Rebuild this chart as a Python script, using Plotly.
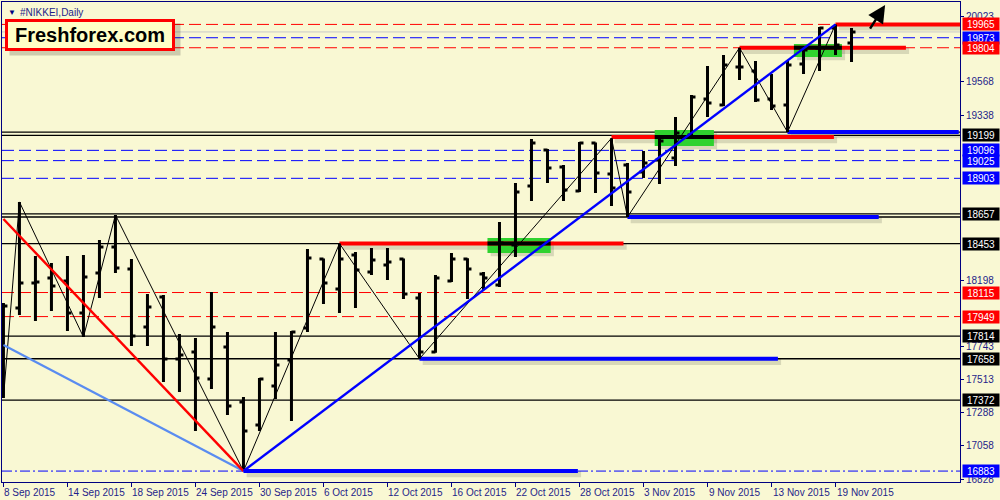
import datetime as dt
import plotly.graph_objects as go

# ---------------- data ----------------
dates = (["2015-09-%02d" % d for d in (8, 9, 10, 11, 14, 15, 16, 17, 18, 21, 22, 23, 24, 25, 28, 29, 30)]
         + ["2015-10-%02d" % d for d in (1, 2, 5, 6, 7, 8, 9, 12, 13, 14, 15, 16, 19, 20, 21, 22, 23, 26, 27, 28, 29, 30)]
         + ["2015-11-%02d" % d for d in (2, 3, 4, 5, 6, 9, 10, 11, 12, 13, 16, 17, 18, 19, 20)])

opens = [17500, 18008, 18181, 18215, 18195, 17974, 18250, 18429, 18277, 17877,
         18084, 17656, 17705, 17518, 17739, 17360, 17201, 17470, 17649, 17870,
         18346, 18139, 18374, 18257, 18305, 18346, 18077, 17705, 18195, 18346,
         18243, 18167, 18443, 18850, 19098, 18981, 18816, 19147, 18933, 18995,
         18947, 19029, 19043, 19202, 19450, 19409, 19671, 19644, 19450, 19409,
         19692, 19802, 19940, 19837]
highs = [18043, 18740, 18367, 18319, 18367, 18374, 18477, 18650, 18346, 18105,
         18098, 17829, 17801, 18119, 17843, 17394, 17525, 17843, 17850, 18415,
         18350, 18453, 18395, 18422, 18422, 18350, 18112, 18236, 18388, 18352,
         18257, 18602, 18871, 19174, 19105, 18995, 19154, 19150, 19180, 19009,
         19092, 19174, 19326, 19478, 19678, 19754, 19804, 19713, 19623, 19713,
         19795, 19947, 19965, 19940]
lows = [17387, 17960, 17919, 17988, 17850, 17808, 18077, 18250, 17746, 17746,
        17498, 17429, 17160, 17449, 17270, 16883, 17160, 17380, 17229, 17843,
        18036, 17974, 18008, 18236, 18201, 18070, 17658, 17700, 18188, 18070,
        18132, 18153, 18360, 18747, 18871, 18747, 18809, 18802, 18712, 18636,
        18905, 18864, 18988, 19174, 19326, 19402, 19581, 19430, 19374, 19222,
        19623, 19644, 19754, 19706]
closes = [18022, 18181, 18188, 18160, 17974, 18222, 18429, 18284, 17815, 18015,
          17656, 17684, 17525, 17877, 17332, 17160, 17518, 17615, 17843, 18353,
          18181, 18346, 18270, 18339, 18326, 18105, 17705, 18215, 18346, 18277,
          18215, 18457, 18809, 19147, 18974, 18822, 19147, 18940, 18836, 18809,
          19009, 19160, 19216, 19464, 19423, 19685, 19671, 19443, 19402, 19685,
          19788, 19940, 19823, 19913]

# zigzag pivots (bar index, price)
zz_idx = [0, 1, 5, 7, 15, 21, 26, 38, 39, 46, 49, 52]
zz_val = [17387, 18740, 17808, 18650, 16883, 18453, 17658, 19180, 18636, 19804, 19222, 19965]

# trend lines
red_tl_idx, red_tl_val = [0, 15], [18622, 16883]
lb_tl_idx, lb_tl_val = [0, 15], [17753, 16883]
blue_tl_idx, blue_tl_val = [15, 52], [16883, 19965]

# horizontal levels
dash_vals = [19965, 19873, 19804, 19096, 19025, 18903, 18115, 17949]
dash_cols = ["#FF0000", "#0000FF", "#FF0000", "#0000FF", "#0000FF", "#0000FF", "#FF0000", "#FF0000"]
solid_vals = [19222, 19199, 18657, 18636, 18453, 17814, 17658, 17372]
dashdot_val = 16883
bid_val = 19913

# thick level segments
seg_start = [52, 46, 38, 21, 49, 39, 26, 15]
seg_end = [60, 56.4, 51.9, 38.75, 59.7, 54.7, 48.4, 35.9]
seg_val = [19965, 19804, 19188, 18453, 19222, 18636, 17658, 16883]
seg_col = ["#FF0000", "#FF0000", "#FF0000", "#FF0000", "#0000FF", "#0000FF", "#0000FF", "#0000FF"]

# green zones
zone_x0 = [30.25, 40.7, 49.4]
zone_x1 = [34.2, 44.4, 52.4]
zone_y0 = [18388, 19126, 19740]
zone_y1 = [18492, 19236, 19830]
zone_mid = [18453, 19188, 19804]

# price labels on the right scale
label_vals = [19965, 19873, 19804, 19199, 19096, 19025, 18903, 18657, 18453,
              18115, 17949, 17814, 17658, 17372, 16883]
label_cols = ["#FF0000", "#0000FF", "#FF0000", "#000000", "#0000FF", "#0000FF", "#0000FF",
              "#000000", "#000000", "#FF0000", "#FF0000", "#000000", "#000000", "#000000", "#0000FF"]
axis_ticks = [20023, 19568, 19338, 18198, 17743, 17513, 17288, 17058, 16828]

# arrow (from -> to)
arrow_idx = [54.1, 55.1]
arrow_val = [19926, 20099]

# --------------- figure ---------------
BG = "#F9F8D3"
NAVY = "#000080"
TXT = "#1E1E8A"
FONT = "Liberation Sans"

x = list(range(len(dates)))
fig = go.Figure()

shapes = []
for v, c in zip(dash_vals, dash_cols):
    shapes.append(dict(type="line", xref="paper", x0=0, x1=1, yref="y", y0=v, y1=v,
                       line=dict(color=c, width=1, dash="12px,5px"), layer="below"))
for v in solid_vals:
    shapes.append(dict(type="line", xref="paper", x0=0, x1=1, yref="y", y0=v, y1=v,
                       line=dict(color="#000000", width=1.3), layer="below"))
shapes.append(dict(type="line", xref="paper", x0=0, x1=1, yref="y", y0=dashdot_val, y1=dashdot_val,
                   line=dict(color="#0000FF", width=1, dash="10px,3px,2px,3px"), layer="below"))
shapes.append(dict(type="line", xref="paper", x0=0, x1=1, yref="y", y0=bid_val, y1=bid_val,
                   line=dict(color="#C8C8C8", width=1), layer="below"))
for s, e, v in zip(seg_start, seg_end, seg_val):
    shapes.append(dict(type="line", xref="x", x0=s + 0.2, x1=e + 0.2, yref="y", y0=v - 22, y1=v - 22,
                       line=dict(color="rgba(0,0,0,0.13)", width=6), layer="below"))
for x0, x1, y0, y1, m in zip(zone_x0, zone_x1, zone_y0, zone_y1, zone_mid):
    shapes.append(dict(type="rect", xref="x", x0=x0 + 0.2, x1=x1 + 0.2, yref="y", y0=y0 - 22, y1=y1 - 22,
                       fillcolor="rgba(0,0,0,0.13)", line=dict(width=0), layer="below"))
    shapes.append(dict(type="rect", xref="x", x0=x0, x1=x1, yref="y", y0=y0, y1=y1,
                       fillcolor="#2FD22F", line=dict(width=0), layer="below"))
for s, e, v, c in zip(seg_start, seg_end, seg_val, seg_col):
    shapes.append(dict(type="line", xref="x", x0=s, x1=e, yref="y", y0=v, y1=v,
                       line=dict(color=c, width=4), layer="below"))
for x0, x1, m in zip(zone_x0, zone_x1, zone_mid):
    shapes.append(dict(type="line", xref="x", x0=x0, x1=x1, yref="y", y0=m, y1=m,
                       line=dict(color="#000000", width=4), layer="below"))

fig.add_trace(go.Ohlc(x=x, open=opens, high=highs, low=lows, close=closes,
                      increasing=dict(line=dict(color="#000000", width=3)),
                      decreasing=dict(line=dict(color="#000000", width=3)),
                      tickwidth=0.25, showlegend=False, hoverinfo="skip"))
fig.add_trace(go.Scatter(x=zz_idx, y=zz_val, mode="lines",
                         line=dict(color="#000000", width=1), showlegend=False, hoverinfo="skip"))
fig.add_trace(go.Scatter(x=lb_tl_idx, y=lb_tl_val, mode="lines",
                         line=dict(color="#5A8CF0", width=2.2), showlegend=False, hoverinfo="skip"))
fig.add_trace(go.Scatter(x=red_tl_idx, y=red_tl_val, mode="lines",
                         line=dict(color="#FF0000", width=2.4), showlegend=False, hoverinfo="skip"))
fig.add_trace(go.Scatter(x=blue_tl_idx, y=blue_tl_val, mode="lines",
                         line=dict(color="#0000FF", width=2.4), showlegend=False, hoverinfo="skip"))

annotations = []
for v, c in zip(label_vals, label_cols):
    annotations.append(dict(xref="paper", x=1, xanchor="left", xshift=2, yref="y", y=v, yanchor="middle",
                            text=str(v), showarrow=False, bgcolor=c, width=34, height=10, borderpad=1,
                            font=dict(family=FONT, size=10, color="#FFFFFF")))
for i in range(0, len(dates), 4):
    d = dt.date.fromisoformat(dates[i])
    annotations.append(dict(xref="x", x=i, xanchor="left", xshift=-1, yref="paper", y=0, yanchor="top",
                            yshift=-3, text=f"{d.day} {d.strftime('%b %Y')}", showarrow=False,
                            font=dict(family=FONT, size=10, color=TXT)))
annotations.append(dict(xref="paper", x=0, xanchor="left", xshift=4, yref="paper", y=1, yanchor="top",
                        yshift=-4, text="▼", showarrow=False, font=dict(family=FONT, size=8, color=NAVY)))
annotations.append(dict(xref="paper", x=0, xanchor="left", xshift=16, yref="paper", y=1, yanchor="top",
                        yshift=-3, text="#NIKKEI,Daily", showarrow=False, font=dict(family=FONT, size=10, color=TXT)))
annotations.append(dict(xref="paper", x=0, xanchor="left", xshift=7, yref="paper", y=1, yanchor="top",
                        yshift=-21, text=" ", showarrow=False, width=168, height=29, bgcolor="rgba(0,0,0,0.18)",
                        font=dict(size=18)))
annotations.append(dict(xref="paper", x=0, xanchor="left", xshift=3, yref="paper", y=1, yanchor="top",
                        yshift=-17, text="<b>Freshforex.com</b>", showarrow=False, width=164, height=26,
                        bgcolor="#FFFFC6", bordercolor="#FF0000", borderwidth=3, borderpad=0,
                        font=dict(family=FONT, size=20, color="#000000")))
annotations.append(dict(x=arrow_idx[1], y=arrow_val[1], ax=arrow_idx[0], ay=arrow_val[0],
                        xref="x", yref="y", axref="x", ayref="y", text="", showarrow=True,
                        arrowhead=2, arrowsize=1.4, arrowwidth=2.5, arrowcolor="#000000"))

fig.update_layout(
    width=1000, height=500,
    margin=dict(l=2, r=40, t=2, b=18),
    paper_bgcolor=BG, plot_bgcolor=BG,
    shapes=shapes, annotations=annotations,
    showlegend=False,
    xaxis=dict(range=[-0.09, 59.78], showgrid=False, zeroline=False,
               rangeslider=dict(visible=False),
               tickvals=list(range(0, len(dates), 4)), ticktext=[""] * len(range(0, len(dates), 4)),
               ticks="outside", ticklen=4, tickcolor=NAVY, showline=True, linecolor=NAVY,
               linewidth=1, mirror=True),
    yaxis=dict(range=[16807.6, 20119.6], side="right", showgrid=False, zeroline=False,
               tickvals=axis_ticks, ticktext=[str(v) for v in axis_ticks],
               ticks="outside", ticklen=3, tickcolor=NAVY, showline=True, linecolor=NAVY,
               linewidth=1, mirror=True, tickfont=dict(family=FONT, size=10, color=TXT)),
)

fig.write_html("out.html", config={"displayModeBar": False},
               post_script="document.body.style.margin='0';document.body.style.overflow='hidden';"
                           "document.body.style.background='" + BG + "';")
